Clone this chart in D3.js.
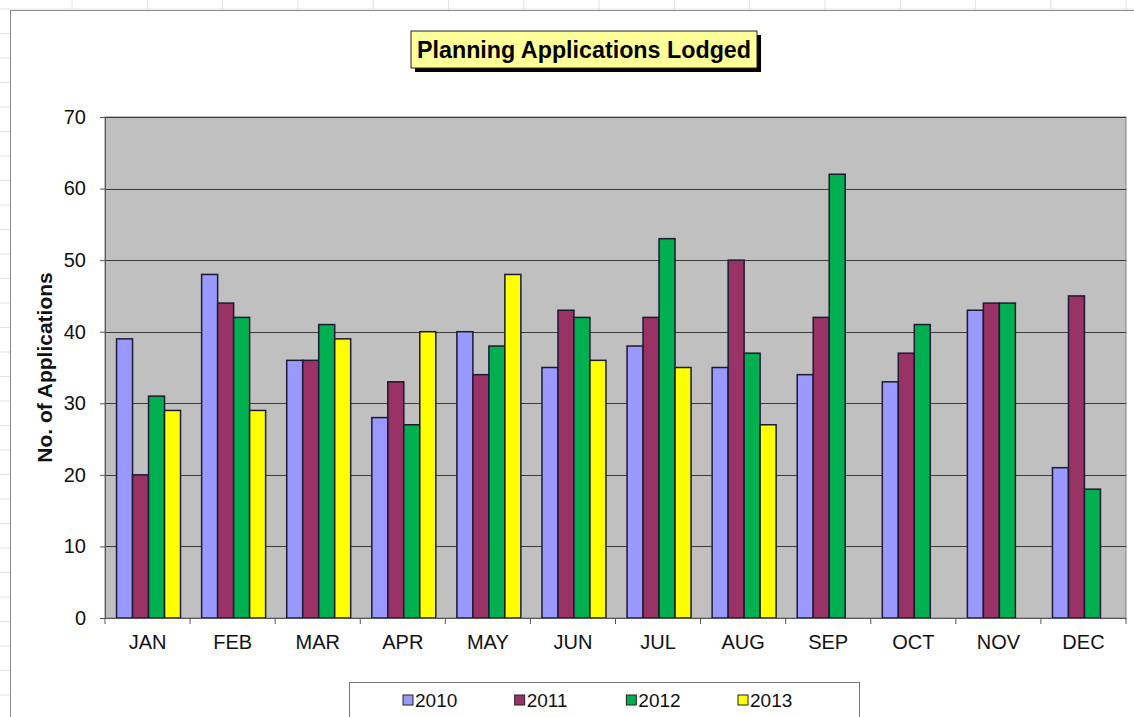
<!DOCTYPE html>
<html>
<head>
<meta charset="utf-8">
<script src="https://cdn.jsdelivr.net/npm/d3@7"></script>
<style>
  body { margin: 0; background: #fff; }
  svg { display: block; font-family: "Liberation Sans", Arial, sans-serif; }
</style>
</head>
<body>
<script>
// Planning applications lodged per month, one series per year

var months = ["JAN", "FEB", "MAR", "APR", "MAY", "JUN", "JUL", "AUG", "SEP", "OCT", "NOV", "DEC"];
var years = ["2010", "2011", "2012", "2013"];

var apps2010 = [39, 48, 36, 28, 40, 35, 38, 35, 34, 33, 43, 21];
var apps2011 = [20, 44, 36, 33, 34, 43, 42, 50, 42, 37, 44, 45];
var apps2012 = [31, 42, 41, 27, 38, 42, 53, 37, 62, 41, 44, 18];
var apps2013 = [29, 29, 39, 40, 48, 36, 35, 27, null, null, null, null];

var yTicks = [0, 10, 20, 30, 40, 50, 60, 70];
var colors = ["#9999ff", "#993366", "#00b050", "#ffff00"];

var series = [apps2010, apps2011, apps2012, apps2013];

var W = 1134, H = 717;
var svg = d3.select("body").append("svg")
  .attr("width", W)
  .attr("height", H);

// spreadsheet cells behind the chart
var sheet = svg.append("g").attr("class", "sheet");
sheet.selectAll(".col").data(d3.range(72, W, 75.3)).enter().append("line")
  .attr("x1", function (d) { return d; }).attr("x2", function (d) { return d; })
  .attr("y1", 0).attr("y2", H)
  .attr("stroke", "#e2e2e2");
sheet.selectAll(".row").data(d3.range(9, H, 24.5)).enter().append("line")
  .attr("x1", 0).attr("x2", W)
  .attr("y1", function (d) { return d; }).attr("y2", function (d) { return d; })
  .attr("stroke", "#e2e2e2");

// chart area
svg.append("rect")
  .attr("x", 10.5).attr("y", 10.5)
  .attr("width", W).attr("height", H)
  .attr("fill", "#fff")
  .attr("stroke", "#8a8a8a");

var plot = { left: 105, right: 1126, top: 117, bottom: 618 };

var x = d3.scaleBand()
  .domain(months)
  .range([plot.left, plot.right]);

var xInner = d3.scaleBand()
  .domain(years)
  .range([1, x.bandwidth() + 1])
  .paddingOuter(0.66);

var y = d3.scaleLinear()
  .domain([0, 70])
  .range([plot.bottom, plot.top]);

// plot background
svg.append("rect")
  .attr("x", plot.left).attr("y", plot.top)
  .attr("width", plot.right - plot.left).attr("height", plot.bottom - plot.top)
  .attr("fill", "#c0c0c0")
  .attr("stroke", "#808080");

// gridlines
svg.append("g").selectAll("line").data(yTicks.slice(1)).enter().append("line")
  .attr("x1", plot.left).attr("x2", plot.right)
  .attr("y1", function (d) { return Math.round(y(d)) + 0.5; })
  .attr("y2", function (d) { return Math.round(y(d)) + 0.5; })
  .attr("stroke", "#3a3a3a")
  .attr("stroke-width", 1);

// bars
var groups = svg.append("g").selectAll("g.month")
  .data(months).enter().append("g")
  .attr("class", "month")
  .attr("transform", function (d) { return "translate(" + x(d) + ",0)"; });

groups.selectAll("rect")
  .data(function (m, i) {
    return years.map(function (yr, j) { return { year: yr, value: series[j][i], c: colors[j] }; })
      .filter(function (d) { return d.value != null; });
  })
  .enter().append("rect")
  .attr("x", function (d) { return xInner(d.year); })
  .attr("width", xInner.bandwidth())
  .attr("y", function (d) { return y(d.value); })
  .attr("height", function (d) { return y(0) - y(d.value); })
  .attr("fill", function (d) { return d.c; })
  .attr("stroke", "#1a1a33")
  .attr("stroke-width", 1.5);

// y axis
var yAxis = svg.append("g")
  .attr("transform", "translate(" + plot.left + ",0)")
  .call(d3.axisLeft(y).tickValues(yTicks).tickSize(5).tickPadding(14));
yAxis.select(".domain").attr("stroke", "#555");
yAxis.selectAll(".tick line").attr("stroke", "#555");
yAxis.selectAll("text")
  .attr("font-size", 20)
  .attr("fill", "#111")
  .attr("font-family", "Liberation Sans, Arial, sans-serif");

// x axis with ticks between categories
var xAxis = svg.append("g")
  .attr("transform", "translate(0," + plot.bottom + ")")
  .call(d3.axisBottom(x).tickSize(0).tickPadding(17));
xAxis.select(".domain").attr("stroke", "#555");
xAxis.selectAll("text")
  .attr("font-size", 20)
  .attr("fill", "#111")
  .attr("font-family", "Liberation Sans, Arial, sans-serif");
xAxis.selectAll(".sep").data(months.concat(["end"])).enter().append("line")
  .attr("class", "sep")
  .attr("x1", function (d) { return d === "end" ? plot.right : x(d); })
  .attr("x2", function (d) { return d === "end" ? plot.right : x(d); })
  .attr("y1", 0).attr("y2", 6)
  .attr("stroke", "#555");

// y axis title
svg.append("text")
  .attr("transform", "translate(52," + (plot.top + plot.bottom) / 2 + ") rotate(-90)")
  .attr("text-anchor", "middle")
  .attr("font-size", 21)
  .attr("font-weight", "bold")
  .attr("fill", "#111")
  .text("No. of Applications");

// title box with shadow
var title = svg.append("g").attr("transform", "translate(411,31)");
title.append("rect")
  .attr("x", 4).attr("y", 4)
  .attr("width", 346).attr("height", 37)
  .attr("fill", "#000");
title.append("rect")
  .attr("x", 0).attr("y", 0)
  .attr("width", 346).attr("height", 37)
  .attr("fill", "#ffff99")
  .attr("stroke", "#222")
  .attr("stroke-width", 1);
title.append("text")
  .attr("x", 173).attr("y", 27)
  .attr("text-anchor", "middle")
  .attr("font-size", 24)
  .attr("font-weight", "bold")
  .attr("fill", "#000")
  .attr("textLength", 334)
  .attr("lengthAdjust", "spacingAndGlyphs")
  .text("Planning Applications Lodged");

// legend
var legend = svg.append("g");
legend.append("rect")
  .attr("x", 349.5).attr("y", 682.5)
  .attr("width", 510).attr("height", 50)
  .attr("fill", "#fff")
  .attr("stroke", "#777");

var legendX = d3.scalePoint()
  .domain(years)
  .range([403, 738]);

var items = legend.selectAll("g.item").data(years).enter().append("g")
  .attr("class", "item")
  .attr("transform", function (d) { return "translate(" + legendX(d) + ",700)"; });
items.append("rect")
  .attr("x", 0).attr("y", -5)
  .attr("width", 10).attr("height", 10)
  .attr("fill", function (d, i) { return colors[i]; })
  .attr("stroke", "#222");
items.append("text")
  .attr("x", 12).attr("y", 7)
  .attr("font-size", 19)
  .attr("fill", "#111")
  .text(function (d) { return d; });
</script>
</body>
</html>
